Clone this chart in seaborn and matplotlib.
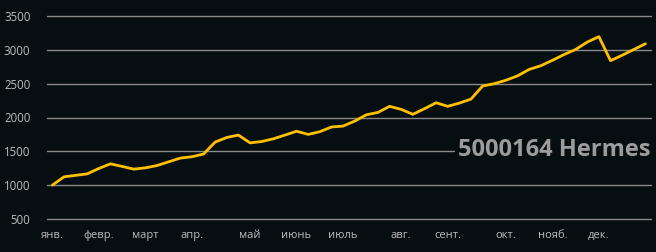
import matplotlib
matplotlib.use("Agg")
import matplotlib.pyplot as plt
import seaborn as sns
import numpy as np
import pandas as pd

# ---- data ----
values = [1000, 1123, 1145, 1167, 1247, 1315, 1277, 1237, 1256, 1290,
          1345, 1400, 1420, 1460, 1637, 1705, 1740, 1625, 1645, 1685,
          1740, 1797, 1750, 1790, 1860, 1873, 1947, 2040, 2075, 2165,
          2120, 2047, 2130, 2218, 2165, 2213, 2272, 2465, 2500, 2550,
          2615, 2710, 2765, 2845, 2930, 3005, 3115, 3195, 2840, 2920,
          3005, 3090]
weeks = list(range(len(values)))
month_labels = ["янв.", "февр.", "март", "апр.", "май", "июнь", "июль",
                "авг.", "сент.", "окт.", "нояб.", "дек."]
month_pos = [0, 4, 8, 12, 17, 21, 25, 30, 34, 39, 43, 47]
y_ticks = [500, 1000, 1500, 2000, 2500, 3000, 3500]
title = "5000164 Hermes"

BG = "#070e11"
GRID = "#8a8a8a"
TXT = "#bdbdbd"
LINE = "#FFC000"

sns.set_style("dark")
plt.rcParams['font.family'] = ['Open Sans', 'DejaVu Sans']

fig = plt.figure(figsize=(6.56, 2.52), dpi=100, facecolor=BG)
ax = fig.add_axes([47/656, 1-219/252, 604/656, 203/252])
ax.set_facecolor(BG)

df = pd.DataFrame({"week": weeks, "value": values})
sns.lineplot(data=df, x="week", y="value", ax=ax, color=LINE, linewidth=2.0, zorder=3)

ax.set_xlim(-0.46, 51.48)
ax.set_ylim(500, 3500)
ax.set_yticks(y_ticks)
ax.set_yticklabels([str(v) for v in y_ticks])
ax.set_xticks(month_pos)
ax.set_xticklabels(month_labels)
ax.set_xticks([-0.46], minor=True)
ax.tick_params(axis='x', which='minor', length=4, width=1, color=GRID, direction='out')
ax.tick_params(axis='x', which='major', length=0, pad=8, labelsize=8, labelcolor=TXT)
ax.tick_params(axis='y', length=0, pad=12, labelsize=8.3, labelcolor=TXT)
ax.set_xlabel("")
ax.set_ylabel("")
ax.grid(False)
for yv in y_ticks:
    ax.axhline(yv, color=GRID, linewidth=1.0, zorder=1, clip_on=False)
for s in ax.spines.values():
    s.set_visible(False)

fig.text(650/656, 1-149.5/252, title, ha='right', va='center', fontsize=17,
         fontweight='bold', color="#9c9c9c",
         bbox=dict(facecolor=BG, edgecolor='none', pad=1.5), zorder=5)

fig.savefig("out.png", dpi=100, facecolor=BG)
